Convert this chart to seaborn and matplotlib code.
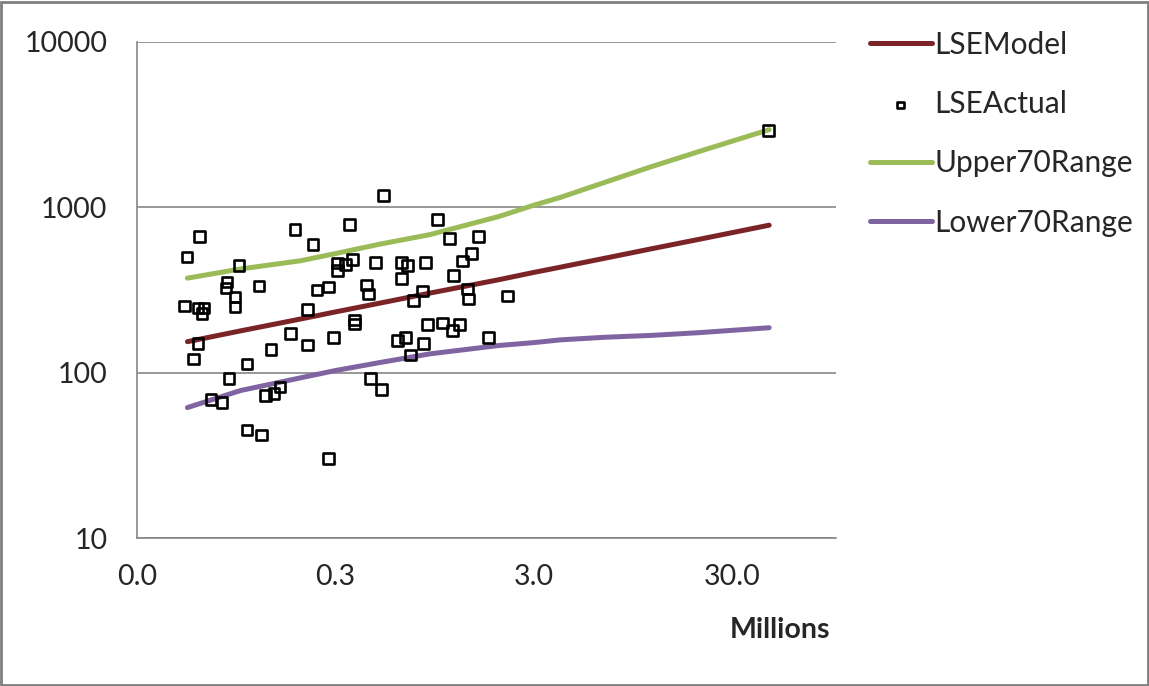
import matplotlib
matplotlib.use("Agg")
import matplotlib.pyplot as plt
import matplotlib.ticker as mticker
from matplotlib.patches import Rectangle
import seaborn as sns
import pandas as pd

# LSEActual points, x in millions
actual_x = [0.0537, 0.0624, 0.0982, 0.0854, 0.0845, 0.124, 0.0938, 0.0938, 0.0524, 0.061,
            0.0654, 0.0639, 0.061, 0.0582, 0.1425, 0.1078, 0.0874, 0.0709, 0.0806, 0.133,
            0.1476, 0.158, 0.1078, 0.127, 0.524, 0.188, 0.353, 0.232, 0.307, 0.337,
            0.366, 0.307, 0.478, 0.646, 0.277, 0.243, 0.430, 0.440, 0.646, 0.217,
            0.374, 0.374, 0.178, 0.217, 0.293, 0.617, 0.451, 0.512, 0.277, 0.982,
            1.13, 1.58, 0.693, 0.855, 1.31, 1.46, 1.18, 0.825, 0.743, 1.39,
            1.41, 2.22, 0.875, 1.04, 1.27, 1.17, 0.677, 0.718, 0.835, 1.78, 45.6]
actual_y = [500, 668, 447, 353, 325, 334, 287, 250, 253, 246,
            246, 227, 150, 121, 138, 113, 92, 69, 66, 73,
            75, 82, 45, 42, 1181, 737, 790, 598, 460, 453,
            486, 417, 466, 466, 330, 316, 339, 299, 373, 240,
            208, 197, 172, 147, 163, 156, 92, 79, 30.3, 847,
            650, 668, 447, 466, 473, 528, 389, 312, 272, 321,
            279, 291, 195, 200, 195, 179, 163, 128, 150, 163, 2911]

# fitted model and 70% range
line_x = [0.054, 0.1, 0.2, 0.3, 0.5, 0.9, 2.0, 3.0, 4.1, 7.0, 11.7, 21, 46]
model_y = [154, 179, 211, 233, 263, 303, 365, 404, 435, 495, 561, 645, 780]
upper_y = [373, 424, 475, 525, 598, 684, 880, 1030, 1150, 1430, 1760, 2200, 2950]
lower_y = [61.5, 78, 93, 103, 115, 130, 146, 152, 158, 164, 168, 175, 187]

x_ticks = [0.03, 0.3, 3, 30]
x_tick_labels = ["0.0", "0.3", "3.0", "30.0"]
y_ticks = [10, 100, 1000, 10000]

sns.set_style("white")
plt.rcParams["font.family"] = ["Lato", "DejaVu Sans"]

actual = pd.DataFrame({"x": actual_x, "y": actual_y})
lines = pd.DataFrame({"x": line_x, "model": model_y, "upper": upper_y, "lower": lower_y})

fig = plt.figure(figsize=(11.49, 6.86), dpi=100)
ax = fig.add_axes([0.119, 0.2157, 0.6087, 0.7231])

sns.lineplot(data=lines, x="x", y="model", color="#7B2427", linewidth=3.6, label="LSEModel",
             estimator=None, ax=ax, zorder=3)
sns.scatterplot(data=actual, x="x", y="y", marker="s", s=60, facecolor="none",
                edgecolor="black", linewidth=1.9, label="LSEActual", ax=ax, zorder=5)
sns.lineplot(data=lines, x="x", y="upper", color="#9BBB59", linewidth=3.6, label="Upper70Range",
             estimator=None, ax=ax, zorder=3)
sns.lineplot(data=lines, x="x", y="lower", color="#8064A2", linewidth=3.6, label="Lower70Range",
             estimator=None, ax=ax, zorder=3)

ax.set_xscale("log")
ax.set_yscale("log")
ax.set_xlim(0.03, 100)
ax.set_ylim(10, 10000)
ax.set_xticks(x_ticks)
ax.set_xticklabels(x_tick_labels)
ax.set_yticks(y_ticks)
ax.yaxis.set_major_formatter(mticker.FuncFormatter(lambda v, p: f"{int(v)}"))
ax.xaxis.set_minor_locator(mticker.NullLocator())
ax.yaxis.set_minor_locator(mticker.NullLocator())
ax.tick_params(axis="both", labelsize=20.5, length=7, width=1, color="#868686",
               direction="out")
ax.tick_params(axis="y", pad=14)
ax.tick_params(axis="x", pad=12)
ax.grid(axis="y", color="#868686", linewidth=1.2)
ax.grid(axis="x", visible=False)
for side in ["top", "right"]:
    ax.spines[side].set_visible(False)
for side in ["left", "bottom"]:
    ax.spines[side].set_color("#868686")
    ax.spines[side].set_linewidth(1.2)

ax.set_ylabel("")
ax.set_xlabel("Millions", fontsize=20.5, fontweight="bold", ha="right")
ax.xaxis.set_label_coords(0.991, -0.16)

handles, labels = ax.get_legend_handles_labels()
ax.get_legend().remove()
fig.legend(handles, labels, loc="upper left", bbox_to_anchor=(0.744, 0.977), frameon=False,
           fontsize=21.5, handlelength=2.07, handletextpad=0.1, labelspacing=1.05,
           borderpad=0, markerscale=0.6)

fig.patches.append(Rectangle((0.001, 0.001), 0.998, 0.996, transform=fig.transFigure,
                             fill=False, edgecolor="#7f7f7f", linewidth=2))

fig.savefig("out.png", dpi=100)
